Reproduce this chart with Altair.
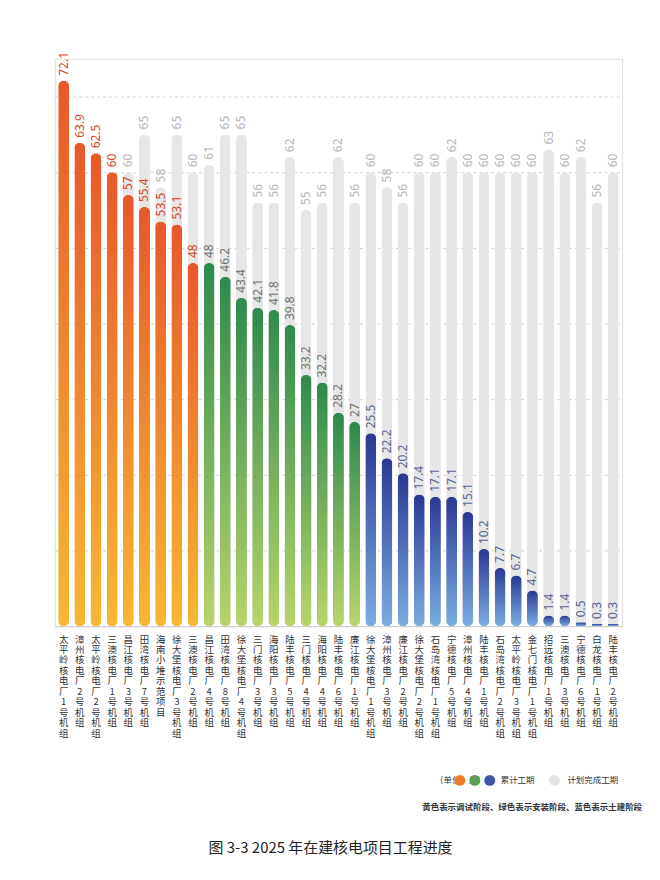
import altair as alt
import pandas as pd

names = ["太平岭核电厂1号机组","漳州核电厂2号机组","太平岭核电厂2号机组","三澳核电厂1号机组","昌江核电厂3号机组",
         "田湾核电厂7号机组","海南小堆示范项目","徐大堡核电厂3号机组","三澳核电厂2号机组","昌江核电厂4号机组",
         "田湾核电厂8号机组","徐大堡核电厂4号机组","三门核电厂3号机组","海阳核电厂3号机组","陆丰核电厂5号机组",
         "三门核电厂4号机组","海阳核电厂4号机组","陆丰核电厂6号机组","廉江核电厂1号机组","徐大堡核电厂1号机组",
         "漳州核电厂3号机组","廉江核电厂2号机组","徐大堡核电厂2号机组","石岛湾核电厂1号机组","宁德核电厂5号机组",
         "漳州核电厂4号机组","陆丰核电厂1号机组","石岛湾核电厂2号机组","太平岭核电厂3号机组","金七门核电厂1号机组",
         "招远核电厂1号机组","三澳核电厂3号机组","宁德核电厂6号机组","白龙核电厂1号机组","陆丰核电厂2号机组"]
progress = [72.1,63.9,62.5,60,57,55.4,53.5,53.1,48,48,46.2,43.4,42.1,41.8,39.8,33.2,32.2,28.2,27,25.5,
            22.2,20.2,17.4,17.1,17.1,15.1,10.2,7.7,6.7,4.7,1.4,1.4,0.5,0.3,0.3]
plan = [60,60,60,60,60,65,58,65,60,61,65,65,56,56,62,55,56,62,56,60,58,56,60,60,62,60,60,60,60,60,63,60,62,56,60]
stage = ["调试"]*9 + ["安装"]*10 + ["土建"]*16

df = pd.DataFrame({"name": names, "progress": progress, "plan": plan, "stage": stage})
df["plab"] = [str(p) if p > q else "" for p, q in zip(plan, progress)]
df["glab"] = [str(v) for v in progress]

W, H = 570, 570
xenc = alt.X("name:N", sort=names, scale=alt.Scale(paddingInner=0.3, paddingOuter=0.2),
             axis=alt.Axis(title=None, labelAngle=0, ticks=False, domainColor="#cccccc",
                           labelExpr="split(datum.label, '')", labelFontSize=9.5, labelLineHeight=10.5,
                           labelColor="#333", labelBaseline="top", labelPadding=8,
                           labelFont="Noto Sans CJK SC"))
yscale = alt.Scale(domain=[0, 75], nice=False)
yenc_axis = alt.Axis(title=None, labels=False, ticks=False, domain=False, values=list(range(10, 80, 10)),
                     gridDash=[3, 3], gridColor="#cfcfcf")

base = alt.Chart(df)
bw = 11
plan_bar = base.mark_bar(color="#e6e6e6", width=bw, cornerRadius=5.5).encode(
    x=xenc, y=alt.Y("plan:Q", scale=yscale, axis=yenc_axis))

def grad(top, bottom):
    return alt.Gradient(gradient="linear", x1=0, y1=0, x2=0, y2=1,
                        stops=[alt.GradientStop(color=top, offset=0), alt.GradientStop(color=bottom, offset=1)])

grads = {"调试": grad("#e8582a", "#f7b733"), "安装": grad("#2e8a4f", "#b9d46a"), "土建": grad("#2c3894", "#7aaee0")}
labcol = {"调试": "#d9452b", "安装": "#6a756a", "土建": "#5b6691"}

layers = [plan_bar]
for s in ["调试", "安装", "土建"]:
    sub = base.transform_filter(alt.datum.stage == s)
    layers.append(sub.mark_bar(color=grads[s], width=bw, cornerRadius=5.5).encode(
        x=xenc, y=alt.Y("progress:Q", scale=yscale)))
    layers.append(sub.mark_text(angle=270, align="left", baseline="middle", dx=5, fontSize=12,
                                color=labcol[s], font="Noto Sans").encode(
        x=xenc, y=alt.Y("progress:Q", scale=yscale), text="glab:N"))

layers.append(base.mark_text(angle=270, align="left", baseline="middle", dx=5, fontSize=12,
                             color="#b5b5b5", font="Noto Sans").encode(
    x=xenc, y=alt.Y("plan:Q", scale=yscale), text="plab:N"))

# legend & caption
leg = pd.DataFrame({"t": ["（单位：月）", "累计工期", "计划完成工期"], "x": [382, 448, 515]})
legend_text = alt.Chart(leg).mark_text(align="left", baseline="middle", fontSize=8.5, font="Noto Sans CJK SC",
                                       color="#333").encode(
    x=alt.X("x:Q", scale=None), y=alt.value(725), text="t:N")
dots = pd.DataFrame({"x": [407, 422, 437, 502], "c": ["#ee7a2a", "#5aa055", "#3b55a8", "#e3e3e3"]})
legend_dots = alt.Chart(dots).mark_circle(size=120, opacity=1).encode(
    x=alt.X("x:Q", scale=None), y=alt.value(725), color=alt.Color("c:N", scale=None))
note = alt.Chart(pd.DataFrame({"t": ["黄色表示调试阶段、绿色表示安装阶段、蓝色表示土建阶段"]})).mark_text(
    align="right", baseline="middle", fontSize=8.5, fontWeight="bold", font="Noto Sans CJK SC", color="#333").encode(
    x=alt.value(590), y=alt.value(752), text="t:N")
caption = alt.Chart(pd.DataFrame({"t": ["图 3-3 2025 年在建核电项目工程进度"]})).mark_text(
    align="center", baseline="middle", fontSize=15, font="Noto Sans CJK SC", color="#222").encode(
    x=alt.value(277), y=alt.value(793), text="t:N")

chart = alt.layer(*layers, legend_text, legend_dots, note, caption).properties(
    width=W, height=H, padding={"left": 47, "top": 42, "right": 10, "bottom": 10}
).configure_view(stroke=None).configure(background="white")

chart.save("out.html", embed_options={"renderer": "svg", "actions": False})
